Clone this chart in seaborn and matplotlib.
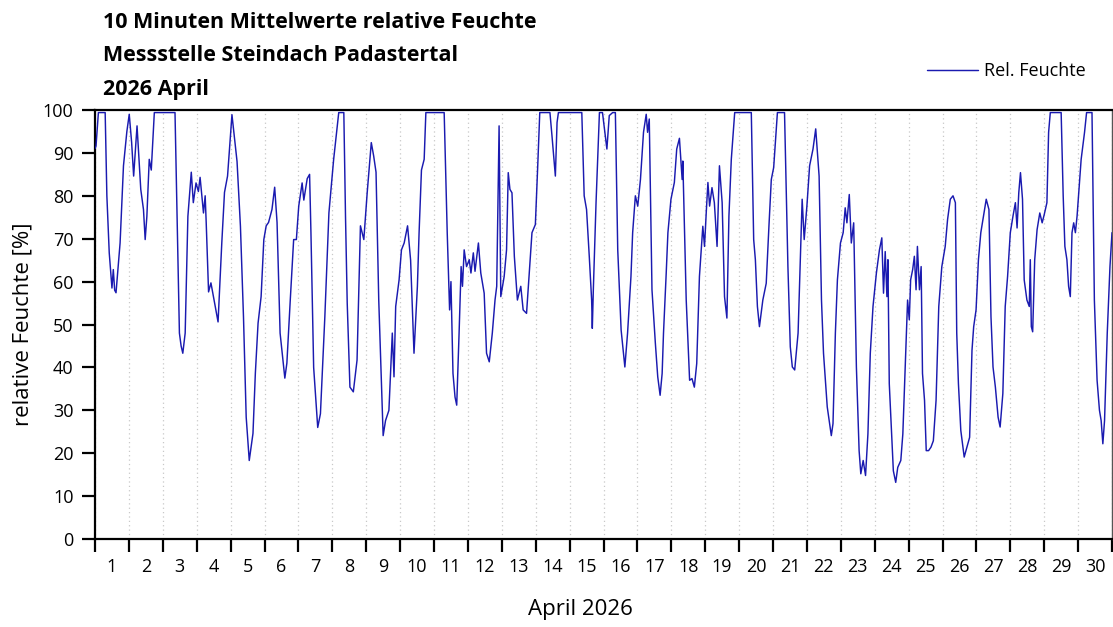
import numpy as np
import pandas as pd
import matplotlib
matplotlib.use("Agg")
import matplotlib.pyplot as plt
import seaborn as sns

# Time in days since 1 April 2026 00:00 and relative humidity in %
day = [
    0.00, 0.03, 0.10, 0.30, 0.35, 0.42, 0.50, 0.54, 0.58, 0.62, 0.74, 0.84, 0.94,
    1.01, 1.08, 1.14, 1.24, 1.35, 1.43, 1.48, 1.53, 1.60, 1.66, 1.75, 2.36, 2.43,
    2.49, 2.54, 2.59, 2.66, 2.74, 2.84, 2.90, 2.98, 3.05, 3.10, 3.20, 3.25, 3.28,
    3.35, 3.42, 3.55, 3.63, 3.74, 3.82, 3.91, 4.04, 4.19, 4.29, 4.38, 4.46, 4.55,
    4.66, 4.73, 4.81, 4.90, 4.98,
    5.05, 5.12, 5.22, 5.30, 5.37, 5.46, 5.60, 5.66, 5.76, 5.86, 5.94, 6.01, 6.11,
    6.16, 6.26, 6.33, 6.37, 6.45, 6.57, 6.65, 6.78, 6.90, 7.04, 7.19, 7.34, 7.39,
    7.44, 7.52, 7.62, 7.73, 7.83, 7.93, 8.03, 8.15, 8.22, 8.29, 8.37, 8.50, 8.57,
    8.67, 8.77, 8.82, 8.87, 8.97, 9.04, 9.12, 9.22, 9.31, 9.41, 9.51, 9.56, 9.63,
    9.71, 9.76,
    10.30, 10.39, 10.46, 10.50, 10.56, 10.62, 10.67, 10.74, 10.80, 10.84, 10.89,
    10.96, 11.04, 11.09, 11.16, 11.21, 11.31, 11.38, 11.48, 11.55, 11.63, 11.72,
    11.80, 11.85, 11.92, 11.97, 12.07, 12.14, 12.19, 12.24, 12.30, 12.37, 12.46,
    12.56, 12.63, 12.73, 12.81, 12.89, 12.99, 13.06, 13.12,
    13.42, 13.48, 13.58, 13.63, 13.67, 14.36, 14.43, 14.50, 14.58, 14.65, 14.67,
    14.70, 14.78, 14.88, 14.97, 15.10, 15.17, 15.27, 15.35, 15.42, 15.52, 15.63,
    15.71, 15.81, 15.86, 15.94, 16.01, 16.09, 16.18, 16.26, 16.30, 16.35, 16.43,
    16.53, 16.60, 16.67,
    16.73, 16.77, 16.85, 16.90, 16.99, 17.09, 17.16, 17.24, 17.32, 17.34, 17.44,
    17.54, 17.61, 17.68, 17.75, 17.83, 17.93, 17.98, 18.03, 18.08, 18.13, 18.20,
    18.27, 18.35, 18.42, 18.50, 18.57, 18.64, 18.70, 18.77, 18.87, 19.36, 19.43,
    19.48, 19.54, 19.60, 19.70, 19.80, 19.88, 19.95,
    20.02, 20.13, 20.34, 20.44, 20.51, 20.57, 20.64, 20.74, 20.80, 20.86, 20.92,
    21.00, 21.08, 21.18, 21.26, 21.36, 21.43, 21.49, 21.60, 21.72, 21.77, 21.84,
    21.90, 21.99, 22.07, 22.13, 22.18, 22.25, 22.31, 22.38, 22.46, 22.54, 22.59,
    22.66, 22.73, 22.80, 22.87, 22.95, 23.05,
    23.14, 23.21, 23.26, 23.31, 23.36, 23.39, 23.43, 23.50, 23.55, 23.62, 23.68,
    23.77, 23.83, 23.90, 23.97, 24.02, 24.06, 24.12, 24.17, 24.22, 24.26, 24.32,
    24.37, 24.41, 24.47, 24.52, 24.59, 24.66, 24.73, 24.81, 24.89, 24.98, 25.08,
    25.15, 25.23, 25.31, 25.38, 25.42, 25.47, 25.54, 25.64, 25.72, 25.80, 25.87,
    25.92, 25.99, 26.06, 26.13, 26.21, 26.29, 26.37,
    26.43, 26.49, 26.56, 26.64, 26.70, 26.78, 26.85, 26.92, 27.00, 27.08, 27.15,
    27.20, 27.25, 27.30, 27.36, 27.41, 27.49, 27.56, 27.59, 27.62, 27.66, 27.72,
    27.79, 27.87, 27.94, 28.00, 28.08, 28.13, 28.18, 28.50, 28.56, 28.61, 28.67,
    28.72, 28.77, 28.82, 28.87, 28.92, 28.97, 29.02, 29.09, 29.19, 29.25, 29.41,
    29.48, 29.56, 29.63, 29.68, 29.73, 29.78, 29.86, 29.94, 30.00,
]

humidity = [
    91.0, 91.6, 99.4, 99.4, 80.0, 66.7, 58.5, 62.8, 58.0, 57.4, 69.0, 87.0, 95.0,
    99.0, 92.5, 84.6, 96.3, 81.5, 76.8, 69.8, 75.2, 88.5, 86.0, 99.4, 99.4, 71.4,
    48.0, 45.0, 43.3, 48.0, 75.2, 85.5, 78.4, 83.0, 81.0, 84.3, 76.0, 80.0, 73.8,
    57.6, 59.7, 54.0, 50.6, 69.0, 80.8, 84.6, 98.9, 88.0, 72.9, 51.8, 28.4, 18.3,
    24.6, 38.6, 50.3, 56.5, 69.8,
    73.0, 73.8, 76.8, 82.0, 73.8, 48.0, 37.5, 41.0, 55.7, 69.8, 69.8, 77.6, 83.0,
    79.0, 84.0, 85.0, 71.4, 40.0, 26.0, 29.2, 51.8, 76.0, 88.5, 99.4, 99.4, 75.0,
    55.0, 35.4, 34.3, 41.7, 73.0, 69.8, 80.8, 92.4, 89.3, 85.5, 55.7, 24.1, 27.6,
    30.0, 48.0, 37.8, 54.2, 60.4, 67.4, 69.0, 73.0, 65.0, 43.3, 58.9, 71.4, 86.0,
    88.5, 99.4,
    99.4, 71.4, 53.4, 60.0, 38.6, 33.1, 31.2, 48.0, 63.5, 58.9, 67.4,
    63.5, 65.1, 62.0, 66.7, 62.4, 69.0, 62.0, 57.3, 43.3, 41.3, 48.0,
    55.7, 58.9, 96.3, 56.5, 61.2, 67.4, 85.4, 81.5, 80.7, 65.9, 55.7,
    58.9, 53.4, 52.6, 62.0, 71.4, 73.3, 87.0, 99.4,
    99.4, 94.0, 84.6, 97.1, 99.4, 99.4, 80.0, 76.8, 65.9, 55.7, 49.1,
    58.1, 78.4, 99.4, 99.4, 90.9, 98.7, 99.4, 99.4, 67.4, 48.7, 40.1,
    48.0, 61.2, 71.4, 80.0, 77.6, 83.8, 94.8, 99.0, 94.8, 97.9, 58.1,
    45.6, 37.8, 33.5,
    38.6, 48.0, 62.0, 71.4, 79.2, 83.1, 90.9, 93.4, 83.8, 88.1, 55.7,
    37.0, 37.4, 35.4, 40.9, 61.2, 72.9, 68.2, 76.0, 83.1, 77.6, 81.9,
    78.4, 68.2, 87.0, 78.4, 56.5, 51.5, 75.3, 88.5, 99.4, 99.4, 69.8,
    65.1, 54.2, 49.5, 55.7, 59.6, 72.9, 83.8,
    86.6, 99.4, 99.4, 63.5, 44.8, 40.1, 39.4, 48.0, 63.5, 79.2, 69.8,
    77.6, 87.0, 90.9, 95.6, 84.6, 55.7, 43.3, 30.8, 24.1, 26.9, 48.0,
    60.4, 69.0, 71.4, 77.2, 73.7, 80.3, 69.0, 73.7, 40.1, 20.6, 15.2,
    18.3, 14.8, 24.5, 43.3, 54.2, 62.0,
    67.4, 70.2, 57.3, 67.0, 56.5, 65.1, 36.2, 24.5, 15.9, 13.2, 16.7,
    18.3, 24.5, 40.1, 55.7, 51.1, 60.4, 62.8, 65.9, 58.1, 68.2, 58.1,
    63.5, 38.6, 32.3, 20.6, 20.6, 21.4, 22.9, 32.3, 54.2, 63.5, 68.2,
    74.5, 79.2, 80.0, 78.4, 48.0, 36.2, 25.3, 19.1, 21.4, 23.7, 44.0,
    49.5, 53.4, 65.1, 71.4, 75.3, 79.2, 76.8,
    51.8, 40.1, 35.4, 28.4, 26.1, 33.9, 54.2, 61.2, 71.4, 75.3, 78.4,
    72.5, 80.7, 85.4, 79.2, 60.4, 55.7, 54.2, 65.1, 49.5, 48.3, 65.1,
    72.1, 76.0, 73.7, 75.6, 78.4, 94.8, 99.4, 99.4, 80.0, 68.2, 65.1,
    58.9, 56.5, 71.4, 73.7, 71.4, 75.3, 80.7, 88.5, 94.8, 99.4, 99.4,
    55.7, 37.0, 30.0, 27.6, 22.2, 27.6, 48.0, 63.5, 71.4,
]

day_labels = [str(d) for d in range(1, 31)]
y_ticks = list(range(0, 101, 10))

title_lines = [
    "10 Minuten Mittelwerte relative Feuchte",
    "Messstelle Steindach Padastertal",
    "2026 April",
]

sns.set_style("ticks")
plt.rcParams["font.family"] = ["Open Sans", "DejaVu Sans"]
plt.rcParams.update({
    "text.color": "black",
    "axes.labelcolor": "black",
    "xtick.color": "black",
    "ytick.color": "black",
})

W, H = 1113, 627
fig = plt.figure(figsize=(W / 100, H / 100), dpi=100)
ax = fig.add_axes([95 / W, 1 - 539 / H, (1112 - 95) / W, (539 - 110) / H])

df = pd.DataFrame({"Tag": day, "Rel. Feuchte": humidity})
sns.lineplot(data=df, x="Tag", y="Rel. Feuchte", ax=ax, color="#1a1ab0",
             lw=1.05, label="Rel. Feuchte", estimator=None, zorder=3)

ax.set_xlim(0, 30)
ax.set_ylim(0, 100)

# day boundaries as major ticks, day numbers centred between them
ax.set_xticks(range(0, 31))
ax.set_xticklabels([])
ax.set_xticks(np.arange(0.5, 30, 1.0), minor=True)
ax.set_xticklabels(day_labels, minor=True, fontsize=13)
ax.tick_params(axis="x", which="major", length=9.5, width=1.6, direction="out")
ax.tick_params(axis="x", which="minor", length=0, pad=14)

ax.set_yticks(y_ticks)
ax.set_yticklabels([str(v) for v in y_ticks], fontsize=13)
ax.tick_params(axis="y", length=9.5, width=1.6, direction="out", pad=6)

ax.grid(axis="x", which="major", color="#c8c8c8", lw=0.9, ls=(0, (1, 2.5)))
ax.grid(axis="y", visible=False)

for side in ["left", "bottom", "top"]:
    ax.spines[side].set_linewidth(1.6)
    ax.spines[side].set_color("black")
ax.spines["right"].set_linewidth(1.0)
ax.spines["right"].set_color("#555555")

ax.set_xlabel("")
ax.set_ylabel("relative Feuchte [%]", fontsize=16, labelpad=7)
fig.text(580 / W, 1 - 610 / H, "April 2026", ha="center", va="center", fontsize=16)

for i, line in enumerate(title_lines):
    fig.text(103 / W, 1 - (27.5 + 33.7 * i) / H, line, ha="left", va="baseline",
             fontsize=15.5, fontweight="bold")

ax.legend(loc="center left", bbox_to_anchor=(927 / W, 1 - 71 / H),
          bbox_transform=fig.transFigure, frameon=False, borderpad=0,
          borderaxespad=0, handlelength=2.85, handletextpad=0.3, fontsize=13)

fig.savefig("out.png", dpi=100)
